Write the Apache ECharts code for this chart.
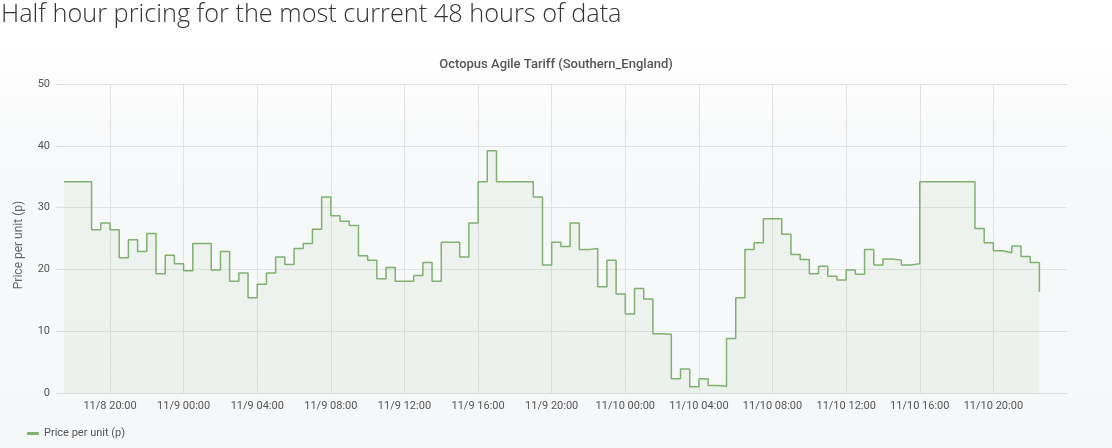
<!DOCTYPE html>
<html>
<head>
<meta charset="utf-8">
<script src="https://cdn.jsdelivr.net/npm/echarts@6/dist/echarts.min.js"></script>
<style>
html,body{margin:0;padding:0;background:#fff;}
#chart{width:1112px;height:448px;}
</style>
</head>
<body>
<div id="chart"></div>
<script>
// Half-hour prices (p)
const pricesNov8 = [34.2,34.2,34.2,26.4,27.5,26.4,21.9,24.8,22.9,25.8,19.3,22.3,20.9]; // 17:30 - 23:30
const pricesNov9 = [19.8,24.2,24.2,19.9,22.9,18.1,19.4,15.4,17.6,19.4,22.0,20.8,23.4,24.2,26.5,31.7,28.7,27.8,27.1,22.2,21.5,18.5,20.3,18.1,18.1,19.0,21.1,18.1,24.4,24.4,22.0,27.5,34.2,39.2,34.2,34.2,34.2,34.2,31.7,20.7,24.4,23.7,27.5,23.2,23.4,17.2,21.5,16.0];
const pricesNov10 = [12.8,16.9,15.2,9.6,9.5,2.3,3.9,1.0,2.3,1.2,1.1,8.8,15.4,23.2,24.3,28.2,28.2,25.7,22.4,21.6,19.3,20.5,18.9,18.3,19.9,19.2,23.2,20.7,21.7,21.5,20.7,20.9,34.2,34.2,34.2,34.2,34.2,34.2,26.6,24.3,23.0,22.7,23.8,22.1,21.1,16.4];
const yTicks = [0,10,20,30,40,50];
const seriesName = 'Price per unit (p)';

// Half-hour categories from 11/8 17:30 up to 11/11 00:00
const days = [8,9,10,11];
const categories = [];
for (const d of days) {
  for (let h = 0; h < 24; h++) {
    for (const m of [0,30]) {
      if (d === 8 && (h < 17 || (h === 17 && m === 0))) continue;
      if (d === 11 && (h > 0 || m > 0)) continue;
      categories.push(d + '/' + String(h).padStart(2,'0') + ':' + (m === 0 ? '00' : '30'));
    }
  }
}
const labelOf = c => { const [d, t] = c.split('/'); return '11/' + d + ' ' + t; };
const prices = pricesNov8.concat(pricesNov9, pricesNov10);
const showTick = (i, c) => {
  if (i >= categories.length - 1) return false;
  const t = c.split('/')[1];
  const h = parseInt(t.slice(0,2),10);
  return t.endsWith(':00') && h % 4 === 0;
};

const chart = echarts.init(document.getElementById('chart'));
chart.setOption({
  animation: false,
  backgroundColor: {
    type: 'linear', x: 0, y: 0, x2: 0, y2: 1,
    colorStops: [
      {offset: 0, color: '#ffffff'},
      {offset: 0.1, color: '#ffffff'},
      {offset: 0.32, color: '#f8f9fa'},
      {offset: 1, color: '#f6f7f9'}
    ]
  },
  title: [
    {text: 'Half hour pricing for the most current 48 hours of data', left: 1, top: 2, padding: 0,
     textStyle: {fontFamily: 'Open Sans', fontWeight: 300, fontSize: 25.3, color: '#333'}},
    {text: 'Octopus Agile Tariff (Southern_England)', left: 'center', top: 53,
     textStyle: {fontFamily: 'Roboto', fontWeight: 500, fontSize: 13, color: '#555'}}
  ],
  graphic: [{
    type: 'text', x: 19, y: 245, rotation: Math.PI / 2,
    style: {text: 'Price per unit (p)', fill: '#666', font: '12px Roboto', align: 'center', verticalAlign: 'middle'}
  }],
  legend: {
    left: 22, top: 423, icon: 'roundRect', itemWidth: 12, itemHeight: 3,
    textStyle: {fontFamily: 'Roboto', fontSize: 11, color: '#555'},
    data: [seriesName]
  },
  grid: {left: 64, right: 45, top: 84, bottom: 55, containLabel: false},
  xAxis: {
    type: 'category', boundaryGap: false, data: categories,
    axisLine: {lineStyle: {color: '#dcdcdc'}},
    axisTick: {show: false},
    axisLabel: {interval: showTick, formatter: labelOf, color: '#555', fontFamily: 'Roboto', fontSize: 11, margin: 8},
    splitLine: {show: true, interval: showTick, lineStyle: {color: '#e2e2e2'}}
  },
  yAxis: {
    type: 'value', min: yTicks[0], max: yTicks[yTicks.length-1], interval: 10,
    axisLine: {show: false},
    axisTick: {show: true, length: 8, lineStyle: {color: '#dcdcdc'}},
    axisLabel: {color: '#555', fontFamily: 'Roboto', fontSize: 11, margin: 14},
    splitLine: {lineStyle: {color: '#e2e2e2'}}
  },
  series: [{
    name: seriesName, type: 'line', step: 'end', data: prices,
    symbol: 'none', showSymbol: false,
    lineStyle: {color: '#7EB26D', width: 1.5},
    itemStyle: {color: '#7EB26D'},
    areaStyle: {color: 'rgba(126,178,109,0.11)'}
  }]
});
</script>
</body>
</html>
